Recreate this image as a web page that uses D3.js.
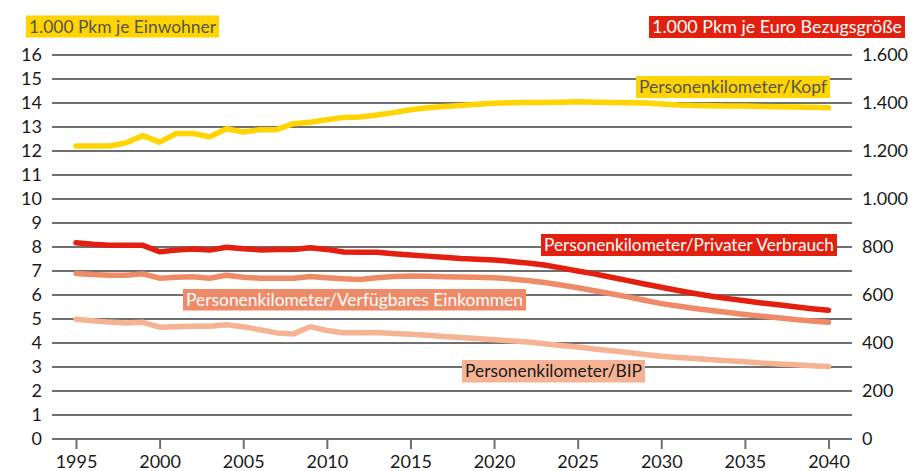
<!DOCTYPE html>
<html><head><meta charset="utf-8">
<script src="https://cdn.jsdelivr.net/npm/d3@7"></script>
<style>
html,body{margin:0;padding:0;background:#fff;}
svg{display:block;font-family:Lato,"Noto Sans",sans-serif;}
</style></head>
<body><svg id="c" width="913" height="471"></svg>
<script>
const years = d3.range(1995, 2041);
const kopf = [12.21,12.21,12.21,12.34,12.64,12.37,12.73,12.73,12.59,12.93,12.79,12.89,12.89,13.14,13.2,13.3,13.4,13.42,13.5,13.6,13.72,13.8,13.85,13.9,13.95,13.99,14.01,14.02,14.02,14.03,14.05,14.03,14.02,14.01,14.0,13.96,13.92,13.9,13.89,13.88,13.87,13.85,13.84,13.83,13.82,13.8];
const privat = [8.18,8.11,8.07,8.07,8.07,7.8,7.87,7.92,7.87,7.99,7.93,7.88,7.9,7.9,7.97,7.9,7.79,7.78,7.78,7.72,7.67,7.62,7.57,7.52,7.49,7.46,7.4,7.33,7.25,7.13,7.0,6.88,6.74,6.6,6.46,6.32,6.19,6.06,5.95,5.85,5.76,5.67,5.59,5.51,5.43,5.36];
const einkommen = [6.9,6.85,6.82,6.82,6.88,6.7,6.74,6.76,6.7,6.82,6.74,6.7,6.7,6.7,6.77,6.72,6.68,6.65,6.72,6.77,6.79,6.78,6.76,6.75,6.74,6.72,6.67,6.6,6.52,6.42,6.3,6.18,6.05,5.92,5.78,5.64,5.54,5.44,5.35,5.27,5.19,5.12,5.05,4.98,4.92,4.86];
const bip = [4.99,4.93,4.87,4.83,4.86,4.66,4.68,4.7,4.7,4.76,4.68,4.55,4.42,4.38,4.68,4.52,4.43,4.43,4.44,4.4,4.36,4.32,4.27,4.23,4.19,4.14,4.09,4.04,3.97,3.9,3.83,3.75,3.68,3.6,3.52,3.45,3.4,3.35,3.3,3.26,3.22,3.17,3.13,3.09,3.05,3.02];
const leftTicks = d3.range(0, 17);
const rightTicks = [0,200,400,600,800,1000,1200,1400,1600];
const xTicks = [1995,2000,2005,2010,2015,2020,2025,2030,2035,2040];
const leftTitle = "1.000 Pkm je Einwohner";
const rightTitle = "1.000 Pkm je Euro Bezugsgröße";

const fmt = d3.formatLocale({decimal:",", thousands:".", grouping:[3], currency:["","€"]}).format(",d");

const svg = d3.select("#c");
const x = d3.scaleLinear().domain([1995, 2040]).range([76, 828.5]);
const y = d3.scaleLinear().domain([0, 16]).range([439, 55]);
const y2 = d3.scaleLinear().domain([0, 1600]).range([439, 55]);
const gridL = 52, gridR = 852;

// gridlines
svg.append("g").selectAll("line").data(leftTicks).join("line")
  .attr("x1", gridL).attr("x2", gridR)
  .attr("y1", d => y(d)).attr("y2", d => y(d))
  .attr("stroke", "#6f6f6f").attr("stroke-width", 2);

// left axis labels
const yl = svg.append("g").attr("transform", `translate(${gridL},0)`)
  .call(d3.axisLeft(y).tickValues(leftTicks).tickSize(0).tickPadding(10));
yl.select(".domain").remove();
yl.selectAll("text").attr("font-size", 18).attr("fill", "#1a1a1a").attr("font-family", "Lato");

// right axis labels
const yr = svg.append("g").attr("transform", `translate(${gridR},0)`)
  .call(d3.axisRight(y2).tickValues(rightTicks).tickSize(0).tickPadding(10).tickFormat(fmt));
yr.select(".domain").remove();
yr.selectAll("text").attr("font-size", 18).attr("fill", "#1a1a1a").attr("font-family", "Lato");

// x axis
const xa = svg.append("g").attr("transform", `translate(0,${y(0)})`)
  .call(d3.axisBottom(x).tickValues(xTicks).tickSize(10).tickPadding(6).tickFormat(d3.format("d")));
xa.select(".domain").remove();
xa.selectAll("line").attr("stroke", "#6f6f6f").attr("stroke-width", 2);
xa.selectAll("text").attr("font-size", 18).attr("fill", "#1a1a1a").attr("font-family", "Lato");

// lines
const line = d3.line().x((d, i) => x(years[i])).y(d => y(d));
const series = [
  {v: bip, c: "#f6b394"},
  {v: einkommen, c: "#ef8a68"},
  {v: privat, c: "#e3200f"},
  {v: kopf, c: "#ffd400"}
];
svg.append("g").selectAll("path").data(series).join("path")
  .attr("d", d => line(d.v)).attr("fill", "none")
  .attr("stroke", d => d.c).attr("stroke-width", 5.5)
  .attr("stroke-linecap", "round").attr("stroke-linejoin", "round");

// labels with boxes
function label(text, x0, yTop, w, h, bg, fg, anchor) {
  const g = svg.append("g");
  const bx = anchor === "end" ? x0 - w : x0;
  g.append("rect").attr("x", bx).attr("y", yTop).attr("width", w).attr("height", h).attr("fill", bg);
  const t = g.append("text").attr("x", bx + 3).attr("y", yTop + h / 2).attr("dy", "0.36em")
    .attr("font-size", 17).attr("fill", fg).attr("font-family", "Lato").text(text);
  t.attr("textLength", w - 6).attr("lengthAdjust", "spacingAndGlyphs");
}
label(leftTitle, 26, 15.5, 193, 22, "#ffd400", "#555555");
label(rightTitle, 905, 16, 256, 22, "#e3200f", "#ffffff", "end");
label("Personenkilometer/Kopf", 636, 76, 194, 22, "#ffd400", "#555555");
label("Personenkilometer/Privater Verbrauch", 541, 234, 296, 22, "#e3200f", "#ffffff");
label("Personenkilometer/Verfügbares Einkommen", 183, 289, 343, 21.5, "#ef8a68", "#ffffff");
label("Personenkilometer/BIP", 462, 360, 183, 22.5, "#f6b394", "#1a1a1a");
</script></body></html>
